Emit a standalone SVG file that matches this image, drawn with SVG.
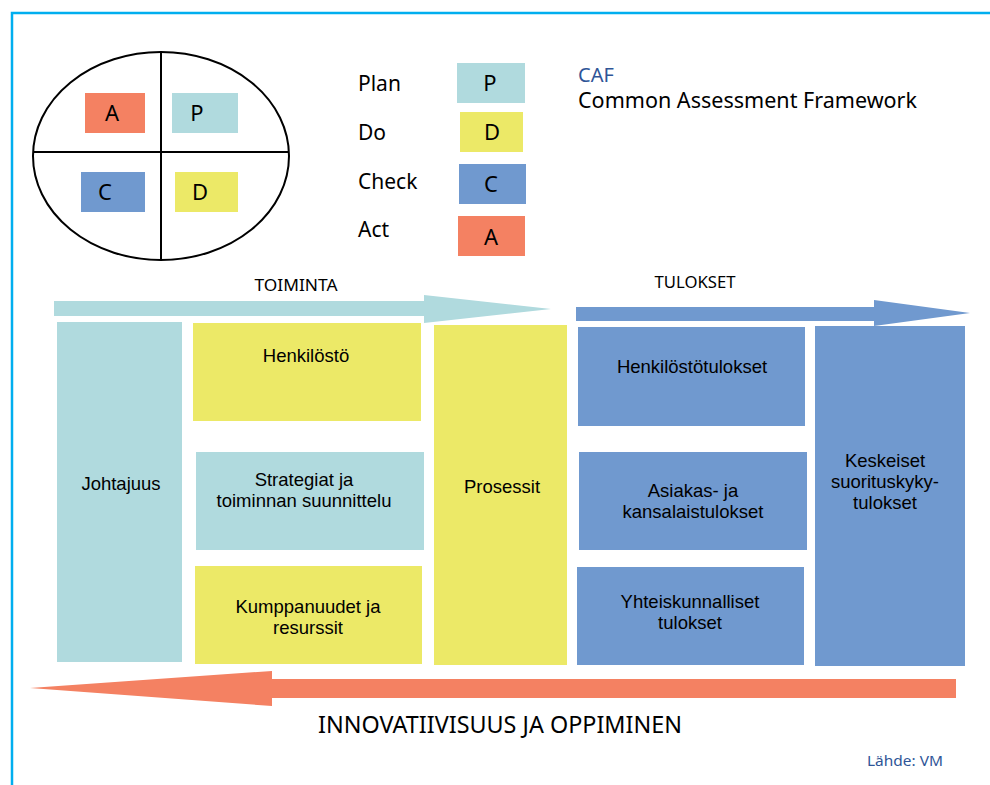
<svg xmlns="http://www.w3.org/2000/svg" width="990" height="785" viewBox="0 0 990 785">
<style>
text{font-family:"Noto Sans","Open Sans","Liberation Sans",sans-serif;fill:#000}
.t{font-family:"Liberation Sans",Arial,sans-serif;font-size:18.5px;text-anchor:middle}
.l{font-size:21px}
.k{font-size:22px;text-anchor:middle}
.teal{fill:#B0DADE}.yel{fill:#ECE967}.blu{fill:#7099CF}.ora{fill:#F48162}
</style>
<rect width="990" height="785" fill="#fff"/>
<path d="M12 785 V13 H990" fill="none" stroke="#00AEEF" stroke-width="2.5"/>
<g id="cycle">
<ellipse cx="161" cy="156" rx="128" ry="104" fill="none" stroke="#000" stroke-width="2"/>
<line x1="161" y1="51" x2="161" y2="261" stroke="#000" stroke-width="2"/>
<line x1="33" y1="152" x2="289" y2="152" stroke="#000" stroke-width="2"/>
<rect class="ora" x="85" y="93" width="60" height="40"/><text class="k" x="112" y="121">A</text>
<rect class="teal" x="172" y="93" width="66" height="40"/><text class="k" x="197" y="121">P</text>
<rect class="blu" x="81" y="172" width="64" height="40"/><text class="k" x="105" y="200">C</text>
<rect class="yel" x="175" y="172" width="63" height="40"/><text class="k" x="200" y="200">D</text>
</g>
<g id="legend">
<text class="l" x="358" y="91">Plan</text>
<rect class="teal" x="457" y="63" width="68" height="40"/><text class="k" x="490" y="91">P</text>
<text class="l" x="358" y="140">Do</text>
<rect class="yel" x="460" y="112" width="63" height="40"/><text class="k" x="492" y="140">D</text>
<text class="l" x="358" y="189">Check</text>
<rect class="blu" x="459" y="164" width="67" height="40"/><text class="k" x="491" y="192">C</text>
<text class="l" x="358" y="237">Act</text>
<rect class="ora" x="458" y="216" width="67" height="40"/><text class="k" x="491" y="245">A</text>
</g>
<g id="title">
<text x="578" y="82" style="font-size:20px;fill:#2F5597">CAF</text>
<text x="578" y="108" style="font-size:21px" textLength="339" lengthAdjust="spacingAndGlyphs">Common Assessment Framework</text>
</g>
<g id="connectors">
<polygon class="teal" points="54,301 424,301 424,295 551,309 424,323 424,316 54,316"/>
<polygon class="blu" points="576,307 874,307 874,300 970,313 874,326 874,321 576,321"/>
<polygon class="ora" points="956,679 272,679 272,671 30,688 272,706 272,698 956,698"/>
</g>
<text x="296" y="291" style="font-size:16px;text-anchor:middle" textLength="83" lengthAdjust="spacingAndGlyphs">TOIMINTA</text>
<text x="695" y="288" style="font-size:16px;text-anchor:middle" textLength="81" lengthAdjust="spacingAndGlyphs">TULOKSET</text>
<g id="johtajuus"><rect class="teal" x="57" y="322" width="125" height="340"/><text class="t" x="121" y="490">Johtajuus</text></g>
<g id="henkilosto"><rect class="yel" x="193" y="323" width="228" height="98"/><text class="t" x="306" y="362">Henkilöstö</text></g>
<g id="strategiat"><rect class="teal" x="196" y="452" width="228" height="98"/><text class="t" x="304" y="486">Strategiat ja</text><text class="t" x="304" y="507">toiminnan suunnittelu</text></g>
<g id="kumppanuudet"><rect class="yel" x="195" y="566" width="227" height="98"/><text class="t" x="308" y="613">Kumppanuudet ja</text><text class="t" x="308" y="634">resurssit</text></g>
<g id="prosessit"><rect class="yel" x="434" y="325" width="133" height="340"/><text class="t" x="502" y="493">Prosessit</text></g>
<g id="henkilostotulokset"><rect class="blu" x="578" y="327" width="227" height="99"/><text class="t" x="692" y="373">Henkilöstötulokset</text></g>
<g id="asiakas"><rect class="blu" x="579" y="452" width="228" height="98"/><text class="t" x="693" y="497">Asiakas- ja</text><text class="t" x="693" y="518">kansalaistulokset</text></g>
<g id="yhteiskunnalliset"><rect class="blu" x="577" y="567" width="227" height="98"/><text class="t" x="690" y="608">Yhteiskunnalliset</text><text class="t" x="690" y="629">tulokset</text></g>
<g id="keskeiset"><rect class="blu" x="815" y="326" width="150" height="340"/><text class="t" x="885" y="467">Keskeiset</text><text class="t" x="885" y="488">suorituskyky-</text><text class="t" x="885" y="509">tulokset</text></g>
<text x="500" y="733" style="font-size:23px;text-anchor:middle" textLength="364" lengthAdjust="spacingAndGlyphs">INNOVATIIVISUUS JA OPPIMINEN</text>
<text x="943" y="766" style="font-size:14px;text-anchor:end;fill:#2F5597" textLength="76" lengthAdjust="spacingAndGlyphs">Lähde: VM</text>
</svg>
